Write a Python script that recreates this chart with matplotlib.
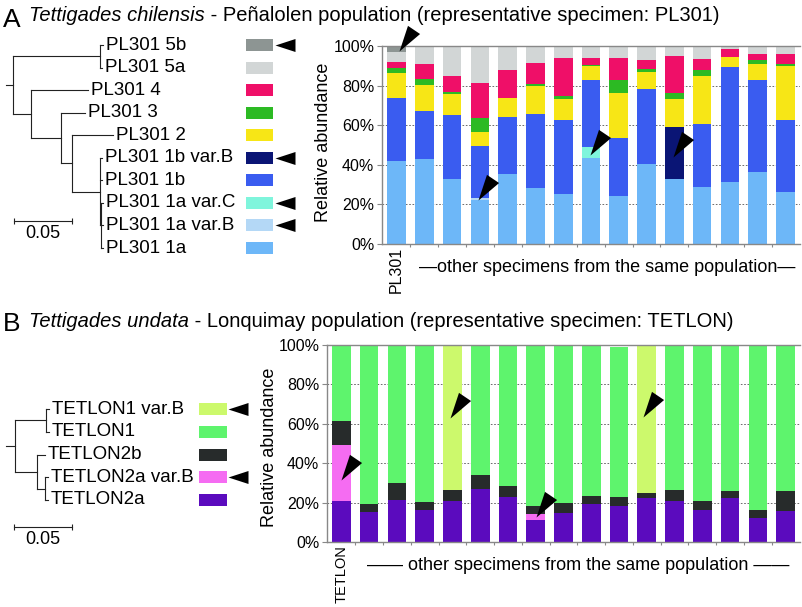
import numpy as np
import matplotlib
matplotlib.use('Agg')
import matplotlib.pyplot as plt
from matplotlib.path import Path

plt.rcParams['font.family'] = ['Liberation Sans', 'DejaVu Sans']

W, H = 802, 607
PX = 1160.0  # pixels per substitution unit in the trees (0.05 -> 58 px)

# ---------------- panel A : Tettigades chilensis, Penalolen ----------------
a_names = ['PL301 1a', 'PL301 1a var.B', 'PL301 1a var.C', 'PL301 1b', 'PL301 1b var.B',
           'PL301 2', 'PL301 3', 'PL301 4', 'PL301 5a', 'PL301 5b']
a_colors = ['#6db7f8', '#b4d8f6', '#7ff5dc', '#3a5cf0', '#0a1575',
            '#f7e616', '#2cba23', '#ef0f68', '#d2d6d6', '#8d9593']
# relative abundance (%) per specimen, PL301 first
a_1a      = [41.9, 43.0, 32.7, 22.0, 35.2, 28.2, 25.2, 43.6, 24.0, 40.3, 32.6, 29.0, 31.4, 36.2, 26.2]
a_1a_varB = [0, 0, 0, 1.0, 0, 0, 0, 0, 0, 0, 0, 0, 0, 0, 0]
a_1a_varC = [0, 0, 0, 0, 0, 0, 0, 5.2, 0, 0, 0, 0, 0, 0, 0]
a_1b      = [31.8, 24.1, 32.2, 26.3, 28.9, 37.4, 37.4, 33.9, 29.7, 38.1, 0, 31.6, 58.0, 46.4, 36.4]
a_1b_varB = [0, 0, 0, 0, 0, 0, 0, 0, 0, 0, 26.5, 0, 0, 0, 0]
a_2       = [12.7, 13.1, 11.1, 7.2, 9.4, 14.1, 10.4, 7.1, 22.8, 8.7, 14.1, 24.1, 4.9, 8.2, 27.5]
a_3       = [2.4, 3.0, 1.0, 6.9, 0.3, 1.0, 1.8, 0.6, 6.2, 1.2, 3.1, 3.1, 0, 2.0, 1.0]
a_4       = [3.0, 7.7, 7.7, 18.0, 14.1, 10.9, 19.2, 3.7, 11.4, 4.5, 18.5, 5.5, 4.4, 3.3, 5.0]
a_5a      = [5.2, 9.1, 15.3, 18.6, 12.1, 8.4, 6.0, 5.9, 5.9, 7.2, 5.2, 6.7, 1.3, 3.9, 3.9]
a_5b      = [3.0, 0, 0, 0, 0, 0, 0, 0, 0, 0, 0, 0, 0, 0, 0]
a_stack = [a_1a, a_1a_varB, a_1a_varC, a_1b, a_1b_varB, a_2, a_3, a_4, a_5a, a_5b]
a_flagged = ['PL301 5b', 'PL301 1b var.B', 'PL301 1a var.C', 'PL301 1a var.B']
a_arrows = [(0.09, 97.5), (2.94, 22.2), (6.96, 45.0), (9.96, 44.0)]  # (specimen, %)

# tree: (name, branch length, children)
a_tree = ('', 0.006, [
    ('', 0.075, [('PL301 5b', 0.0026, []), ('PL301 5a', 0.0017, [])]),
    ('', 0.0155, [
        ('PL301 4', 0.049, []),
        ('', 0.0259, [
            ('PL301 3', 0.021, []),
            ('', 0.0095, [
                ('PL301 2', 0.0350, []),
                ('', 0.0241, [
                    ('PL301 1b var.B', 0.0017, []),
                    ('PL301 1b', 0.0017, []),
                    ('', 0.0009, [('PL301 1a var.C', 0.0017, []),
                                  ('PL301 1a var.B', 0.0017, []),
                                  ('PL301 1a', 0.0017, [])]),
                ]),
            ]),
        ]),
    ]),
])

# ---------------- panel B : Tettigades undata, Lonquimay ----------------
b_names = ['TETLON2a', 'TETLON2a var.B', 'TETLON2b', 'TETLON1', 'TETLON1 var.B']
b_colors = ['#5b0bbe', '#f56cf2', '#272b2b', '#5ef46d', '#ccf96c']
b_2a      = [20.8, 15.1, 21.4, 16.4, 20.7, 26.8, 22.7, 11.4, 14.7, 19.2, 18.5, 22.2, 21.0, 16.3, 22.5, 12.2, 15.8]
b_2a_varB = [28.5, 0, 0, 0, 0, 0, 0, 2.7, 0, 0, 0, 0, 0, 0, 0, 0, 0]
b_2b      = [12.1, 4.2, 8.3, 4.1, 5.7, 7.1, 5.8, 4.0, 5.3, 3.9, 4.2, 2.7, 5.3, 4.7, 3.3, 3.9, 10.3]
b_1       = [38.6, 80.7, 70.3, 79.5, 0, 66.1, 71.5, 81.9, 80.0, 76.9, 76.1, 0, 73.7, 79.0, 74.2, 83.9, 73.9]
b_1_varB  = [0, 0, 0, 0, 73.6, 0, 0, 0, 0, 0, 0, 75.1, 0, 0, 0, 0, 0]
b_stack = [b_2a, b_2a_varB, b_2b, b_1, b_1_varB]
b_flagged = ['TETLON1 var.B', 'TETLON2a var.B']
b_arrows = [(-0.03, 31.7), (3.9, 62.7), (7.0, 12.7), (10.87, 63.5)]

b_tree = ('', 0.0078, [
    ('', 0.0267, [('TETLON1 var.B', 0.0026, []), ('TETLON1', 0.0026, [])]),
    ('', 0.019, [
        ('TETLON2b', 0.0069, []),
        ('', 0.0069, [('TETLON2a var.B', 0.0026, []), ('TETLON2a', 0.0026, [])]),
    ]),
])


def tri_marker(angle, length, half):
    # filled arrowhead with its tip on the data point
    u = np.array([np.cos(np.radians(angle)), np.sin(np.radians(angle))])
    n = np.array([-u[1], u[0]])
    verts = [(0, 0), tuple(length * u + half * n), tuple(length * u - half * n), (0, 0)]
    path = Path(verts, [Path.MOVETO, Path.LINETO, Path.LINETO, Path.CLOSEPOLY])
    ms = np.max(np.abs(verts)) * 2 * 72 / 100
    return path, ms


bar_head, bar_ms = tri_marker(56, 26, 7.3)
key_head, key_ms = tri_marker(0, 20, 6.5)

fig = plt.figure(figsize=(W / 100, H / 100), dpi=100)


def px_axes(x0, y0, x1, y1):
    return fig.add_axes([x0 / W, 1 - y1 / H, (x1 - x0) / W, (y1 - y0) / H])


over = px_axes(0, 0, W, H)
over.set_xlim(0, W)
over.set_ylim(H, 0)
over.axis('off')


def title(y, letter, y_letter, species, rest):
    over.text(3, y_letter, letter, fontsize=19, va='baseline', ha='left')
    t = over.text(29, y, species, fontsize=14.5, style='italic', va='baseline', ha='left')
    over.annotate(rest, xy=(1, 0), xycoords=t, va='bottom', ha='left', fontsize=14.5)


title(21, 'A', 27, 'Tettigades chilensis', ' - Peñalolen population (representative specimen: PL301)')
title(327, 'B', 331, 'Tettigades undata', ' - Lonquimay population (representative specimen: TETLON)')


def draw_tree(ax, node, x0, leaves):
    name, length, kids = node
    x = x0 + length
    if kids:
        ys = [draw_tree(ax, k, x, leaves) for k in kids]
        ax.plot([x, x], [min(ys), max(ys)], color='#222', lw=0.8)
        y = (min(ys) + max(ys)) / 2
    else:
        y = len(leaves)
        leaves.append((name, x, y))
    ax.plot([x0, x], [y, y], color='#222', lw=0.8)
    return y


def tree_panel(box, root_px, row0_px, row_px, tree, names, colors, flagged,
               swatch_px, arrow_px, scale_y_px):
    ax = px_axes(*box)
    x0, y0, x1, y1 = box
    ax.set_xlim((x0 - root_px) / PX, (x1 - root_px) / PX)
    ax.set_ylim((y1 - row0_px) / row_px, (y0 - row0_px) / row_px)
    ax.axis('off')
    leaves = []
    draw_tree(ax, tree, -tree[1], leaves)
    col = dict(zip(names, colors))
    sw_x = (swatch_px[0] - root_px) / PX
    sw_w = (swatch_px[1] - swatch_px[0]) / PX
    tip = (arrow_px - root_px) / PX
    for name, x, y in leaves:
        ax.text(x + 3 / PX, y, name, fontsize=13.5, va='center', ha='left')
        ax.barh(y, sw_w, left=sw_x, height=12 / row_px, color=col[name], linewidth=0)
        if name in flagged:
            ax.plot(tip, y, marker=key_head, ms=key_ms, color='black', ls='none', mew=0)
    sy = (scale_y_px - row0_px) / row_px
    sx = (14 - root_px) / PX
    ax.plot([sx, sx + 0.05], [sy, sy], color='#222', lw=0.8)
    ax.plot([sx, sx + 0.05], [sy, sy], ls='none', marker='|', ms=5, mew=0.8, color='#222')
    ax.text(sx + 0.025, sy + 13 / row_px, '0.05', ha='center', va='center', fontsize=13)
    return ax


def bar_panel(box, stacks, colors, first_label, label_size, other_text, other_xy,
              ylabel_xy, arrows):
    ax = px_axes(*box)
    n = len(stacks[0])
    x = np.arange(n)
    bottom = np.zeros(n)
    for vals, c in zip(stacks, colors):
        vals = np.asarray(vals, float)
        ax.bar(x, vals, bottom=bottom, width=0.67, color=c, linewidth=0, zorder=2)
        bottom += vals
    ax.set_xlim(-0.52, n - 0.48)
    ax.set_ylim(0, 100)
    ax.set_yticks(np.arange(0, 101, 20))
    ax.set_yticklabels([f'{v}%' for v in range(0, 101, 20)])
    ax.set_xticks([0])
    ax.set_xticklabels([first_label], rotation=90, fontsize=label_size)
    ax.set_xticks(np.arange(n - 1) + 0.5, minor=True)
    ax.tick_params(axis='x', which='major', length=0, pad=2)
    ax.tick_params(axis='x', which='minor', length=2.5, color='#888', width=0.8)
    ax.tick_params(axis='y', length=3.5, color='#888', width=0.8, labelsize=11.5, pad=2)
    for s in ['left', 'bottom', 'top']:
        ax.spines[s].set_color('#888')
        ax.spines[s].set_linewidth(1)
    ax.spines['right'].set_visible(False)
    ax.yaxis.grid(True, ls=(0, (2, 2)), color='#555', lw=0.6)
    ax.set_axisbelow(True)
    ax.set_ylabel('Relative abundance', fontsize=13)
    ax.yaxis.set_label_coords(*ylabel_xy)
    ax.text(other_xy[0], other_xy[1], other_text, transform=ax.transAxes,
            ha='center', va='center', fontsize=13)
    for xa, ya in arrows:
        ax.plot(xa, ya, marker=bar_head, ms=bar_ms, color='black', ls='none', mew=0,
                zorder=5, clip_on=False)
    return ax


tree_panel((0, 30, 330, 262), 13, 45, 22.56, a_tree, a_names, a_colors, a_flagged,
           (246, 273), 275, 221)
tree_panel((0, 395, 300, 555), 15, 409, 22.75, b_tree, b_names, b_colors, b_flagged,
           (199, 227), 228, 527)

bar_panel((382, 46, 800, 244), a_stack, a_colors, 'PL301', 11.5,
          '\u2014other specimens from the same population\u2014', (0.538, -0.121),
          (-0.12, 0.515), a_arrows)
bar_panel((327, 345, 800, 542), b_stack, b_colors, 'TETLON', 10.5,
          '\u2014\u2014 other specimens from the same population \u2014\u2014', (0.53, -0.117),
          (-0.1036, 0.48), b_arrows)

fig.savefig('out.png', dpi=100)
